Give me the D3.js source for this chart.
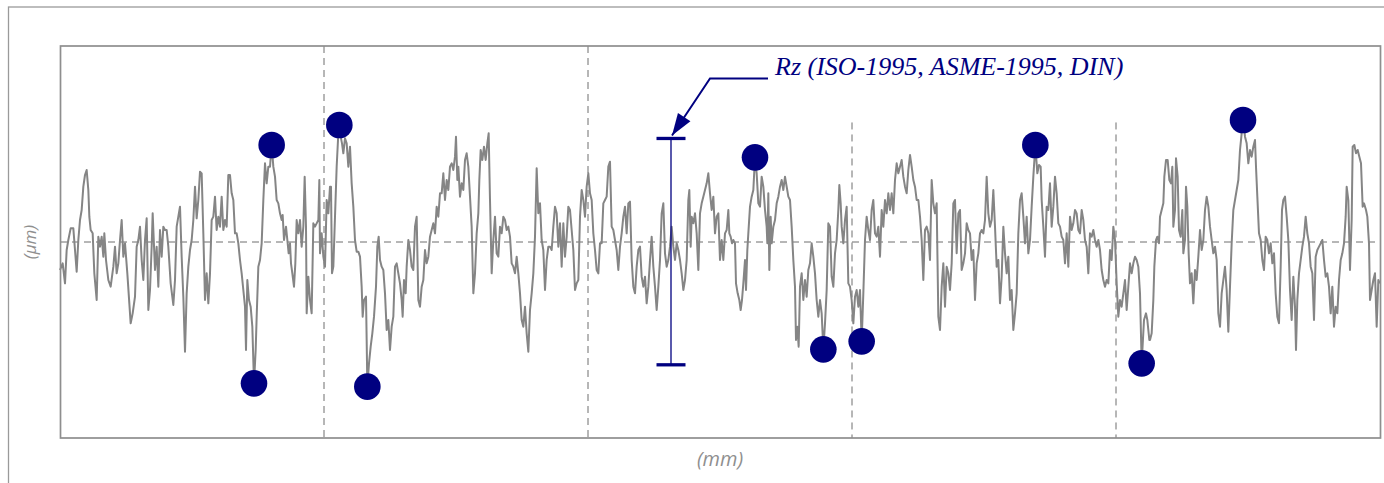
<!DOCTYPE html>
<html><head><meta charset="utf-8">
<script src="https://cdn.jsdelivr.net/npm/d3@7"></script>
<style>html,body{margin:0;padding:0;background:#fff;overflow:hidden}</style>
</head><body>
<svg id="chart" width="1384" height="483"></svg>
<script>
// ---- data ----
const evaluationLengthMm = 3.96;      // 5 sampling lengths
const sectionCount = 5;
const heightRangeUm = [-5.88, 5.88];
const xAxisLabel = "(mm)";
const yAxisLabel = "(\u00b5m)";
const rzLabel = "Rz (ISO-1995, ASME-1995, DIN)";
const rzPositionMm = 1.833;

const profileMm = [
0.000,0.008,0.015,0.020,0.025,0.032,0.040,0.045,0.050,0.055,0.060,0.065,0.070,0.075,0.080,0.085,0.088,0.092,0.098,0.103,
0.110,0.115,0.120,0.125,0.130,0.133,0.138,0.145,0.152,0.160,0.165,0.170,0.175,0.180,0.185,0.190,0.195,0.202,0.208,0.212,
0.218,0.225,0.230,0.235,0.240,0.245,0.250,0.255,0.260,0.265,0.270,0.275,0.278,0.285,0.290,0.295,0.300,0.305,0.310,0.315,
0.320,0.325,0.332,0.340,0.345,0.350,0.355,0.360,0.365,0.370,0.375,0.380,0.385,0.390,0.395,0.400,0.405,0.410,0.415,0.420,
0.425,0.430,0.435,0.440,0.445,0.450,0.455,0.460,0.465,0.470,0.475,0.480,0.485,0.490,0.495,0.500,0.505,0.510,0.515,0.520,
0.525,0.530,0.535,0.540,0.545,0.550,0.555,0.558,0.562,0.567,0.572,0.577,0.582,0.587,0.590,0.595,0.600,0.605,0.610,0.615,
0.620,0.625,
0.630,0.635,0.640,0.645,0.650,0.655,0.660,0.665,0.668,0.672,0.678,0.682,0.686,0.690,0.693,0.697,0.702,0.706,0.710,0.715,
0.720,0.725,0.730,0.734,0.738,0.740,0.745,0.750,0.755,0.760,0.765,0.770,0.775,0.778,0.780,0.785,0.790,0.795,0.800,0.805,
0.810,0.813,0.816,0.820,0.825,0.830,0.834,0.838,0.842,0.846,0.850,0.855,0.860,0.865,0.870,0.875,0.880,0.885,0.890,0.895,
0.900,0.905,0.908,0.912,0.918,0.920,0.922,0.927,0.932,0.937,0.942,0.948,0.952,0.956,0.960,0.965,0.970,0.975,0.980,0.985,
0.990,0.995,1.000,1.005,1.010,1.015,1.020,1.025,1.028,1.032,1.037,1.040,1.045,1.050,1.055,1.060,1.065,1.070,1.075,1.080,
1.085,1.090,1.095,1.100,1.105,1.110,1.115,1.120,1.125,1.130,1.135,1.140,1.145,1.150,1.155,1.160,1.165,1.170,1.175,1.180,
1.185,1.188,1.192,1.195,1.200,1.205,1.210,1.215,1.220,1.225,1.230,1.235,1.240,1.245,1.250,1.255,1.258,1.262,1.267,1.272,
1.277,1.282,1.286,
1.290,1.295,1.300,1.305,1.310,1.315,1.320,1.325,1.330,1.335,1.340,1.345,1.350,1.355,1.360,1.365,1.370,1.375,1.380,1.385,
1.390,1.395,1.400,1.405,1.410,1.415,1.420,1.425,1.430,1.435,1.440,1.445,1.450,1.455,1.460,1.465,1.470,1.475,1.480,1.485,
1.490,1.495,1.500,1.505,1.510,1.515,1.520,1.525,1.530,1.535,1.540,1.545,1.550,1.555,1.560,1.565,1.570,1.575,1.580,1.585,
1.590,1.595,1.600,1.605,1.610,1.615,1.620,1.625,1.630,1.635,1.640,1.645,1.650,1.655,1.660,1.665,1.670,1.675,1.680,1.685,
1.690,1.695,1.700,1.705,1.710,1.715,1.720,1.725,1.730,1.735,1.740,1.745,1.750,1.755,1.760,1.765,1.770,1.775,1.780,1.785,
1.790,1.795,1.800,1.805,1.810,1.815,1.820,1.825,1.830,1.835,1.840,1.845,1.850,1.855,1.860,1.865,1.870,1.875,1.880,1.885,
1.888,1.892,1.895,1.900,1.905,1.910,1.915,1.920,1.925,1.930,1.935,1.940,1.945,
1.950,1.955,1.960,1.965,1.970,1.975,1.980,1.985,1.990,1.995,2.000,2.005,2.008,2.012,2.016,2.020,2.025,2.028,2.033,2.038,
2.042,2.046,2.050,2.055,2.058,2.062,2.065,2.070,2.075,2.080,2.085,2.090,2.095,2.100,2.105,2.110,2.115,2.120,2.122,2.125,
2.128,2.132,2.135,2.140,2.145,2.150,2.155,2.160,2.165,2.170,2.175,2.180,2.185,2.190,2.195,2.200,2.205,2.208,2.212,2.216,
2.220,2.225,2.230,2.235,2.240,2.245,2.250,2.255,2.260,2.265,2.270,2.275,2.280,2.285,2.290,2.295,2.300,2.305,2.310,2.315,
2.320,2.325,2.330,2.335,2.338,2.342,2.345,2.350,2.355,2.360,2.365,2.370,2.375,2.380,2.385,2.390,2.395,2.400,2.405,2.410,
2.415,2.420,2.425,2.430,2.435,2.440,2.445,2.450,2.455,2.460,2.465,2.470,2.475,2.480,2.485,2.490,2.495,2.500,2.505,2.510,
2.515,2.520,2.525,2.530,2.535,2.540,2.545,2.550,2.555,2.560,2.565,2.570,2.575,2.580,2.585,2.590,2.595,2.600,2.605,
2.610,2.615,2.620,2.625,2.630,2.635,2.640,2.645,2.650,2.655,2.660,2.665,2.670,2.675,2.680,2.685,2.690,2.695,2.700,2.705,
2.710,2.715,2.720,2.725,2.730,2.735,2.740,2.745,2.750,2.755,2.760,2.765,2.770,2.775,2.780,2.785,2.790,2.795,2.800,2.805,
2.810,2.815,2.820,2.825,2.830,2.835,2.840,2.845,2.850,2.855,2.860,2.865,2.870,2.875,2.880,2.885,2.890,2.895,2.900,2.905,
2.910,2.915,2.920,2.926,2.932,2.937,2.942,2.945,2.950,2.955,2.960,2.965,2.970,2.975,2.980,2.985,2.990,2.995,3.000,3.005,
3.010,3.015,3.020,3.025,3.030,3.035,3.040,3.045,3.050,3.055,3.060,3.065,3.070,3.075,3.080,3.085,3.090,3.095,3.100,3.105,
3.110,3.115,3.120,3.125,3.130,3.135,3.140,3.145,3.150,3.155,3.160,3.165,3.170,3.175,3.180,3.185,3.190,3.195,3.200,3.205,
3.210,3.215,3.220,3.225,3.230,3.235,3.240,3.245,3.252,3.258,3.262,3.268,
3.270,3.275,3.280,3.283,3.288,3.292,3.297,3.300,3.305,3.310,3.313,3.318,3.323,3.328,3.333,3.337,3.340,3.345,3.348,3.353,
3.357,3.362,3.367,3.370,3.375,3.378,3.382,3.386,3.390,3.395,3.400,3.405,3.410,3.415,3.420,3.425,3.430,3.435,3.440,3.445,
3.450,3.455,3.460,3.465,3.470,3.475,3.480,3.485,3.490,3.495,3.500,3.505,3.510,3.515,3.520,3.525,3.530,3.535,3.540,3.545,
3.549,3.555,3.560,3.565,3.570,3.575,3.580,3.585,3.588,3.592,3.597,3.602,3.607,3.612,3.617,3.622,3.627,3.632,3.637,3.642,
3.647,3.652,3.657,3.662,3.666,3.670,3.675,3.680,3.685,3.690,3.695,3.700,3.705,3.708,3.712,3.717,3.722,3.727,3.732,3.737,
3.742,3.747,3.752,3.757,3.762,3.767,3.772,3.777,3.782,3.787,3.792,3.797,3.802,3.807,3.812,3.817,3.822,3.827,3.832,3.837,
3.842,3.847,3.852,3.857,3.860,3.865,3.870,3.875,3.878,3.883,3.888,3.893,3.898,3.903,3.908,3.912,3.918,3.922,3.927,3.930,
3.935,3.940,3.945,3.950,3.955,3.960
];

const profileUm = [
-0.84,-0.64,-1.24,-0.24,0.06,0.41,0.41,-0.24,-0.89,0.06,0.66,0.96,1.66,2.01,2.16,1.56,0.76,0.36,0.26,-0.94,
-1.74,0.16,-0.14,0.16,-0.44,0.26,-0.54,-1.14,-1.34,-0.74,-0.14,-0.94,-0.64,0.06,0.66,-0.44,-0.04,-0.94,-1.84,-2.44,
-2.14,-1.64,-0.14,0.06,0.46,-0.54,-1.14,0.06,0.71,-2.04,-1.44,-0.14,0.86,-0.84,-0.14,-1.34,0.36,-0.44,0.46,0.36,
0.36,-0.14,-1.24,-1.89,-1.14,0.46,0.76,1.06,-0.44,-1.64,-3.29,-1.54,-0.74,-0.24,0.06,0.66,1.66,0.71,1.26,2.11,
2.06,0.26,-1.74,-0.94,-1.84,-0.94,0.66,0.76,1.36,0.36,0.76,0.46,1.36,0.36,0.66,0.46,2.01,2.01,1.46,1.26,
0.26,0.26,-0.04,-0.54,-0.94,-1.44,-1.94,-3.24,-1.14,-1.74,-1.94,-2.54,-4.24,-3.24,-2.24,-0.74,-0.54,-0.04,1.26,2.36,
1.76,2.26,
2.26,2.91,2.26,1.96,1.26,1.16,0.86,0.66,0.81,0.06,0.46,0.06,-0.34,-0.04,-0.64,-0.94,-1.34,-0.64,0.66,0.26,
0.66,-0.14,0.46,1.96,0.46,-2.14,-1.04,-1.74,-2.14,0.56,0.46,0.56,0.66,1.86,-0.34,0.26,-0.44,-0.74,1.26,0.86,
1.66,1.66,-0.94,-0.74,0.76,2.26,3.06,3.51,3.16,2.96,2.66,3.11,2.96,2.26,2.86,1.76,1.06,0.06,-0.29,-0.29,
-0.44,-1.34,-2.24,-1.74,-1.64,-2.94,-4.34,-3.64,-3.14,-2.74,-2.24,-1.34,-0.14,0.16,-0.54,-0.74,-0.84,-1.54,-2.64,-2.34,
-3.24,-2.54,-2.24,-0.74,-0.64,-0.94,-1.24,-1.74,-2.24,-1.14,-1.54,-0.74,0.06,-0.24,-0.74,-0.84,0.46,0.76,-1.74,-1.94,
-1.34,-1.14,-0.24,-0.64,-0.44,0.16,0.36,0.56,0.26,1.06,0.76,1.46,1.46,2.06,1.26,1.86,1.56,2.26,2.36,2.16,
2.56,3.16,1.86,2.26,1.36,1.76,1.56,2.46,2.66,2.26,1.36,0.46,-1.54,-0.94,0.26,0.86,1.86,2.76,2.46,2.86,
2.46,2.96,3.26,
1.26,-0.94,0.06,0.76,-0.34,-0.44,0.46,0.26,0.76,0.66,0.36,0.46,0.16,-0.64,-0.74,-0.94,-0.44,-0.94,-1.54,-2.34,
-2.54,-1.94,-2.74,-3.29,-2.04,-1.54,-0.94,0.16,2.21,0.86,1.16,0.06,-0.24,-1.44,-0.54,-0.14,-0.14,-0.24,0.46,1.06,
0.86,-0.14,0.56,-0.74,0.56,-0.44,0.16,1.06,0.96,0.36,-0.24,-1.44,-1.24,-1.14,0.76,1.56,1.26,0.76,1.66,2.06,
1.46,1.26,0.26,-0.24,-0.84,-0.94,-0.04,-0.04,1.16,1.26,1.36,2.26,2.41,0.46,0.36,0.06,-0.24,-0.84,-0.14,0.26,
0.76,1.06,0.26,1.16,1.21,-0.54,-1.34,-1.54,-0.74,-0.24,-0.14,-1.04,-1.34,-1.04,-1.84,-1.34,-0.54,0.16,-0.74,-1.34,
-2.04,-1.34,-0.54,0.86,1.16,-0.34,-0.74,-0.54,-0.14,0.46,-0.14,-0.54,-0.04,-0.24,-0.54,-0.94,-1.44,-1.14,-0.54,1.26,
1.56,-0.14,0.76,0.56,0.86,0.26,-0.84,0.86,1.16,1.36,1.56,1.76,2.06,
1.46,0.96,1.36,0.26,0.76,0.86,-0.54,0.06,-0.54,0.26,0.36,0.96,0.26,0.16,-0.04,0.06,-0.04,-1.24,-1.54,-1.74,
-2.04,-1.74,-1.24,-0.54,-1.44,-0.24,0.26,1.06,1.36,1.56,2.54,2.06,1.16,1.06,1.96,1.66,0.96,0.46,-0.04,1.46,
-0.84,0.76,-0.04,0.46,0.66,1.16,1.36,1.66,1.86,1.56,1.96,1.66,1.36,1.26,0.46,-0.54,-1.34,-2.94,-2.54,-3.14,
-1.34,-0.94,-1.74,-1.14,-1.64,-0.84,-0.64,-0.04,-0.44,-0.94,-1.74,-2.24,-1.74,-2.14,-3.22,-2.44,-1.44,0.56,0.46,-1.04,
-1.34,-0.34,0.06,0.96,1.71,1.16,0.46,-0.04,0.66,1.06,-1.24,-1.34,-1.74,-2.44,-1.64,-1.44,-1.94,-1.44,-2.98,-1.54,
0.06,0.76,0.36,0.06,0.96,1.26,0.26,0.16,0.46,-0.44,0.96,0.46,1.26,0.86,1.46,0.96,1.46,0.86,1.86,2.36,
2.06,2.26,2.46,1.96,1.66,1.46,2.16,2.61,2.26,1.86,1.66,1.26,1.26,0.76,0.06,-1.14,0.36,0.46,0.26,
-0.54,1.86,1.16,0.86,1.16,-2.24,-2.64,-1.34,-0.64,-1.94,-0.74,-0.94,-1.44,-0.64,1.16,1.26,-0.34,0.86,0.96,-0.84,
-0.64,-0.34,0.56,0.36,0.26,-0.54,-0.24,-1.74,-0.64,-0.34,0.26,0.36,0.26,0.66,1.96,0.86,0.46,0.66,1.56,0.46,
-0.74,-0.54,-1.84,-1.04,0.46,-0.34,-0.94,-0.44,-1.74,-1.44,-2.64,-2.14,-1.54,0.26,1.26,1.46,0.76,-0.04,0.76,-0.34,
0.06,1.06,1.96,2.91,2.06,2.31,2.26,1.26,0.46,-0.44,1.06,0.96,1.76,0.46,1.06,1.96,1.46,0.56,0.46,0.16,
0.06,-0.64,0.26,-0.74,0.76,0.36,0.56,0.96,0.86,0.36,0.26,0.96,0.66,0.06,-0.14,-0.94,0.26,0.16,0.36,0.06,
-0.14,0.06,-0.24,-0.84,-1.14,-1.34,-1.14,-1.24,-0.24,-0.54,0.46,0.06,-1.24,-2.24,-1.74,-1.94,-1.54,-1.14,-2.04,-1.34,
-0.64,-0.94,-0.64,-0.44,-0.54,-0.74,-1.54,-3.64,-2.34,-2.14,-2.34,-2.94,
-2.94,-2.74,-1.74,-0.74,0.06,0.16,-0.04,0.76,0.96,1.16,1.96,2.46,2.46,1.86,1.76,2.26,0.46,0.96,2.51,1.96,
0.36,0.16,0.96,-0.34,0.06,1.66,1.06,-0.34,-1.24,-0.94,-1.84,-0.84,-1.14,-0.44,0.36,-0.24,0.06,0.96,1.36,1.06,
0.46,0.06,-0.34,-0.14,-0.54,-2.14,-2.54,-1.54,-1.14,-0.74,-1.44,-2.69,-1.34,-0.04,0.96,1.26,1.56,1.86,2.76,3.26,
3.66,3.16,2.96,2.36,2.76,2.56,2.86,3.06,2.26,1.36,0.26,0.06,-0.54,-0.84,0.16,0.06,-0.34,-0.04,-0.64,-0.34,
-1.54,-2.24,-2.44,-0.74,0.96,1.26,1.36,0.76,0.06,-1.44,-2.34,-1.04,-1.94,-3.24,-1.74,-0.94,-0.54,-0.14,0.16,0.76,
0.26,-0.04,-0.74,-0.94,-2.34,-0.44,-0.24,-0.14,-0.04,0.06,-0.54,-1.04,-0.94,-1.34,-2.14,-1.34,-2.54,-1.94,-2.14,-1.14,
-0.54,-0.34,-0.04,0.76,1.66,1.26,-0.84,0.66,2.86,2.91,2.66,2.76,2.56,2.36,1.06,1.16,0.96,0.76,-0.04,-1.74,
-1.44,-1.14,-0.94,-2.54,-1.14,-1.24
];

// ---- layout ----
const W = 1384, H = 483;
const plot = {left: 60, right: 1380, top: 46, bottom: 438};
const navy = "#000080";
const gridColor = "#6e6e6e";

const svg = d3.select("#chart");
svg.append("rect").attr("width", W).attr("height", H).attr("fill", "#fff");

// outer frame (extends beyond the viewport on the right/bottom)
svg.append("rect")
  .attr("x", 8.5).attr("y", 7).attr("width", 1420).attr("height", 520)
  .attr("fill", "none").attr("stroke", "#9a9a9a").attr("stroke-width", 1.3);

const x = d3.scaleLinear().domain([0, evaluationLengthMm]).range([plot.left, plot.right]);
const y = d3.scaleLinear().domain(heightRangeUm).range([plot.bottom, plot.top]);

const points = profileMm.map((m, i) => ({x: m, z: profileUm[i]}));

// sections
const sectionLen = evaluationLengthMm / sectionCount;
const sections = d3.range(sectionCount).map(k => {
  const lo = k * sectionLen, hi = (k + 1) * sectionLen;
  const pts = points.filter(p => p.x >= lo && p.x < hi + 1e-9);
  return {
    lo, hi,
    peak: pts[d3.maxIndex(pts, p => p.z)],
    valley: pts[d3.minIndex(pts, p => p.z)]
  };
});
const meanPeak = d3.mean(sections, s => s.peak.z);
const meanValley = d3.mean(sections, s => s.valley.z);

// annotation geometry (relative to the Rz bar)
const barX = x(rzPositionMm);
const barTop = y(meanPeak), barBottom = y(meanValley);
const labelX = barX + 104, labelY = barTop - 63;

// label first (to measure it)
const label = svg.append("text")
  .attr("x", labelX).attr("y", labelY)
  .attr("font-family", "'Liberation Serif','Times New Roman',serif")
  .attr("font-style", "italic")
  .attr("font-size", 26)
  .attr("fill", navy)
  .text(rzLabel);
const lb = label.node().getBBox();

// grid: section boundaries
const gridG = svg.insert("g", "text");
d3.range(1, sectionCount).forEach(k => {
  const gx = x(k * sectionLen);
  const underLabel = gx > lb.x - 10 && gx < lb.x + lb.width + 10;
  gridG.append("line")
    .attr("x1", gx).attr("x2", gx)
    .attr("y1", underLabel ? labelY + 47 : plot.top).attr("y2", plot.bottom)
    .attr("stroke", gridColor).attr("stroke-width", 1)
    .attr("stroke-dasharray", "7,5");
});
// mean line
gridG.append("line")
  .attr("x1", plot.left).attr("x2", plot.right)
  .attr("y1", y(0)).attr("y2", y(0))
  .attr("stroke", gridColor).attr("stroke-width", 1)
  .attr("stroke-dasharray", "7,5");

// profile
const line = d3.line().x(d => x(d.x)).y(d => y(d.z));
svg.append("path")
  .datum(points)
  .attr("d", line)
  .attr("fill", "none")
  .attr("stroke", "#858585")
  .attr("stroke-width", 2)
  .attr("stroke-linejoin", "round");

// plot frame
svg.append("rect")
  .attr("x", plot.left + 0.5).attr("y", plot.top)
  .attr("width", plot.right - plot.left).attr("height", plot.bottom - plot.top)
  .attr("fill", "none").attr("stroke", "#8e8e8e").attr("stroke-width", 1.7);

// Rz bar
svg.append("line")
  .attr("x1", barX).attr("x2", barX).attr("y1", barTop).attr("y2", barBottom)
  .attr("stroke", navy).attr("stroke-width", 1.3);
[barTop, barBottom].forEach(yy => {
  svg.append("line")
    .attr("x1", barX - 14.5).attr("x2", barX + 14.5)
    .attr("y1", yy).attr("y2", yy)
    .attr("stroke", navy).attr("stroke-width", 3.3);
});

// leader + arrow
const elbow = [barX + 39, barTop - 60];
const tip = [barX + 1, barTop - 3];
svg.append("polyline")
  .attr("points", [[labelX - 7, barTop - 60], elbow, tip].map(p => p.join(",")).join(" "))
  .attr("fill", "none").attr("stroke", navy).attr("stroke-width", 2);
{
  const dx = tip[0] - elbow[0], dy = tip[1] - elbow[1];
  const len = Math.hypot(dx, dy), ux = dx / len, uy = dy / len;
  const hl = 22, hw = 7.5;
  const bx = tip[0] - ux * hl, by = tip[1] - uy * hl;
  svg.append("polygon")
    .attr("points", [
      [tip[0], tip[1]],
      [bx - uy * hw, by + ux * hw],
      [bx + uy * hw, by - ux * hw]
    ].map(p => p.join(",")).join(" "))
    .attr("fill", navy);
}

// peak / valley markers
const markers = sections.flatMap(s => [s.peak, s.valley]);
svg.append("g").selectAll("circle").data(markers).join("circle")
  .attr("cx", d => x(d.x)).attr("cy", d => y(d.z)).attr("r", 13.3)
  .attr("fill", navy);

// axis labels
svg.append("text")
  .attr("x", (plot.left + plot.right) / 2).attr("y", 466)
  .attr("text-anchor", "middle")
  .attr("font-family", "'Open Sans',sans-serif").attr("font-style", "italic")
  .attr("font-size", 20).attr("fill", "#8f8f8f")
  .text(xAxisLabel);
svg.append("text")
  .attr("transform", `translate(36,${y(0)}) rotate(-90)`)
  .attr("text-anchor", "middle")
  .attr("font-family", "'Open Sans',sans-serif").attr("font-style", "italic")
  .attr("font-size", 17).attr("fill", "#8f8f8f")
  .text(yAxisLabel);
</script>
</body></html>
